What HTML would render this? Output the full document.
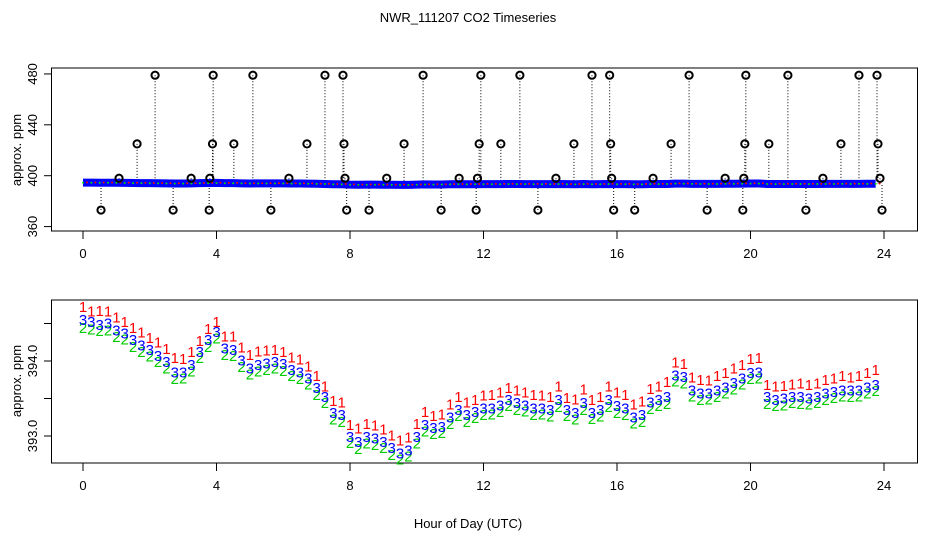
<!DOCTYPE html>
<html><head><meta charset="utf-8"><style>
body{margin:0;background:#fff}
svg{display:block;font-family:"Liberation Sans",sans-serif}
</style></head><body>
<svg id="chart" width="936" height="540" viewBox="0 0 936 540">
<text x="468" y="22" text-anchor="middle" font-size="13">NWR_111207  CO2 Timeseries</text>
<text x="468" y="528" text-anchor="middle" font-size="13">Hour of Day (UTC)</text>
<g id="topPanel"></g>
<g id="botPanel"></g>
</svg>
<script>
const xTicks=[0,4,8,12,16,20,24];
const topYTicks=[360,400,440,480];
const botYTicks=[393.0,393.5,394.0,394.5];
const botYLabels=["393.0","","394.0",""];
const outlierHours=[0.54,1.08,1.62,2.16,2.70,3.24,3.78,3.80,3.88,3.90,4.52,5.09,5.63,6.17,6.71,7.25,7.79,7.82,7.85,7.9,8.57,9.10,9.62,10.19,10.73,11.27,11.78,11.82,11.87,11.92,12.52,13.09,13.63,14.17,14.71,15.25,15.78,15.81,15.84,15.9,16.53,17.08,17.62,18.16,18.70,19.24,19.77,19.8,19.83,19.86,20.55,21.12,21.66,22.17,22.71,23.25,23.79,23.82,23.88,23.94];
const outlierValues=[373,398,425,479,373,398,373,398,425,479,425,479,373,398,425,479,479,425,398,373,373,398,425,479,373,398,373,398,425,479,425,479,373,398,425,479,479,425,398,373,373,398,425,479,373,398,373,398,425,479,425,479,373,398,425,479,479,425,398,373];
const series3=[394.55,394.52,394.48,394.50,394.41,394.37,394.28,394.21,394.15,394.07,
393.99,393.85,393.85,393.95,394.12,394.28,394.39,394.17,394.15,394.01,
393.90,393.95,393.97,393.99,393.96,393.88,393.85,393.77,393.64,393.52,
393.31,393.28,392.99,392.92,392.99,392.97,392.92,392.84,392.77,392.81,
392.99,393.15,393.11,393.12,393.25,393.35,393.28,393.32,393.37,393.37,
393.41,393.48,393.44,393.41,393.37,393.37,393.35,393.48,393.35,393.31,
393.44,393.31,393.35,393.48,393.40,393.37,393.25,393.28,393.45,393.48,
393.52,393.81,393.79,393.61,393.57,393.57,393.61,393.65,393.71,393.77,
393.84,393.85,393.52,393.48,393.50,393.52,393.52,393.50,393.52,393.57,
393.59,393.61,393.61,393.61,393.65,393.68];
const series1=[394.72,394.66,394.67,394.66,394.58,394.52,394.44,394.38,394.31,394.25,
394.16,394.04,394.03,394.12,394.27,394.43,394.52,394.33,394.33,394.18,
394.08,394.13,394.14,394.15,394.12,394.05,394.02,393.93,393.80,393.66,
393.47,393.45,393.15,393.10,393.16,393.14,393.09,393.01,392.94,392.98,
393.16,393.32,393.27,393.29,393.42,393.52,393.45,393.48,393.54,393.55,
393.58,393.64,393.61,393.58,393.55,393.54,393.52,393.66,393.51,393.49,
393.62,393.48,393.52,393.66,393.58,393.55,393.42,393.46,393.63,393.66,
393.72,393.98,393.96,393.78,393.75,393.74,393.80,393.84,393.90,393.95,
394.03,394.04,393.68,393.66,393.67,393.69,393.70,393.68,393.70,393.75,
393.77,393.80,393.78,393.80,393.84,393.88];
const series2=[394.44,394.42,394.40,394.41,394.32,394.29,394.19,394.12,394.06,393.99,
393.90,393.76,393.77,393.86,394.04,394.19,394.30,394.08,394.07,393.92,
393.82,393.86,393.88,393.90,393.87,393.80,393.76,393.69,393.55,393.44,
393.22,393.19,392.91,392.83,392.90,392.88,392.84,392.75,392.69,392.73,
392.90,393.06,393.03,393.04,393.16,393.27,393.19,393.24,393.28,393.29,
393.32,393.40,393.35,393.33,393.28,393.29,393.26,393.39,393.27,393.22,
393.35,393.23,393.26,393.39,393.31,393.28,393.17,393.19,393.36,393.40,
393.43,393.73,393.70,393.53,393.48,393.49,393.52,393.57,393.62,393.69,
393.76,393.77,393.43,393.40,393.41,393.44,393.43,393.42,393.44,393.48,
393.51,393.53,393.52,393.53,393.57,393.60];

const NS="http://www.w3.org/2000/svg";
function mk(parent,tag,attrs,text){const e=document.createElementNS(NS,tag);for(const k in attrs)e.setAttribute(k,attrs[k]);if(text!==undefined)e.textContent=text;parent.appendChild(e);return e;}
const hours=series3.map((v,i)=>i*0.25);
const xS=h=>83+h*(884-83)/24;
const yTop=v=>175.7-(v-400)*1.272;
const yBot=v=>361-(v-394)*75;

function drawFrame(g,t0,b0,yTicks,yLabels,yS,name){
  let e=mk(g,'rect',{x:51.5,y:t0,width:866,height:b0-t0,fill:'none',stroke:'#000','stroke-width':1});
  
  
  xTicks.forEach(t=>{
    let l=mk(g,'line',{x1:xS(t),x2:xS(t),y1:b0,y2:b0+8,stroke:'#000'});
    
    
    let tx=mk(g,'text',{x:xS(t),y:b0+27,'text-anchor':'middle','font-size':13},String(t));
    
    
  });
  yTicks.forEach((t,i)=>{
    const y=yS(t);
    let l=mk(g,'line',{x1:44,x2:51.5,y1:y,y2:y,stroke:'#000'});
    
    
    if(yLabels[i]){
      let tx=mk(g,'text',{x:0,y:0,'text-anchor':'middle','font-size':13,transform:`translate(37,${y}) rotate(-90)`},yLabels[i]);
      
      
    }
  });
}
const topG=document.getElementById('topPanel');
drawFrame(topG,68,231,topYTicks,topYTicks.map(String),yTop,'top');
let yl=mk(topG,'text',{x:0,y:0,'text-anchor':'middle','font-size':13,transform:'translate(21,150) rotate(-90)'},'approx. ppm');


outlierHours.forEach((h,i)=>{
  const s=mk(topG,'line',{x1:xS(h),x2:xS(h),y1:yTop(outlierValues[i]),y2:yTop(394),stroke:'#000','stroke-dasharray':'1,2'});
  
  
});
const bandPts=hours.map((h,i)=>xS(h)+','+yTop(series3[i])).join(' ');
const band=mk(topG,'polyline',{points:bandPts,fill:'none',stroke:'#0000ff','stroke-width':8,'stroke-linejoin':'round'});


hours.forEach((h,i)=>{
  const c=mk(topG,'circle',{cx:xS(h),cy:yTop(series2[i]),r:1,fill:'#00dd00'});
  
  
  const c2=mk(topG,'circle',{cx:xS(h)+4,cy:yTop(series1[i]),r:1,fill:'#ff0000'});
  
  
});
outlierHours.forEach((h,i)=>{
  const c=mk(topG,'circle',{cx:xS(h),cy:yTop(outlierValues[i]),r:3.6,fill:'none',stroke:'#000','stroke-width':2});
  
  
});

const botG=document.getElementById('botPanel');
drawFrame(botG,300,463,botYTicks,botYLabels,yBot,'bottom');
let yl2=mk(botG,'text',{x:0,y:0,'text-anchor':'middle','font-size':13,transform:'translate(21,381) rotate(-90)'},'approx. ppm');


[[series1,'#ff0000','1'],[series2,'#00cc00','2'],[series3,'#0000ff','3']].forEach(([arr,col,lab])=>{
  hours.forEach((h,i)=>{
    const t=mk(botG,'text',{x:xS(h),y:yBot(arr[i])+5,'text-anchor':'middle','font-size':15,fill:col},lab);
    
    
  });
});
</script>
</body></html>
